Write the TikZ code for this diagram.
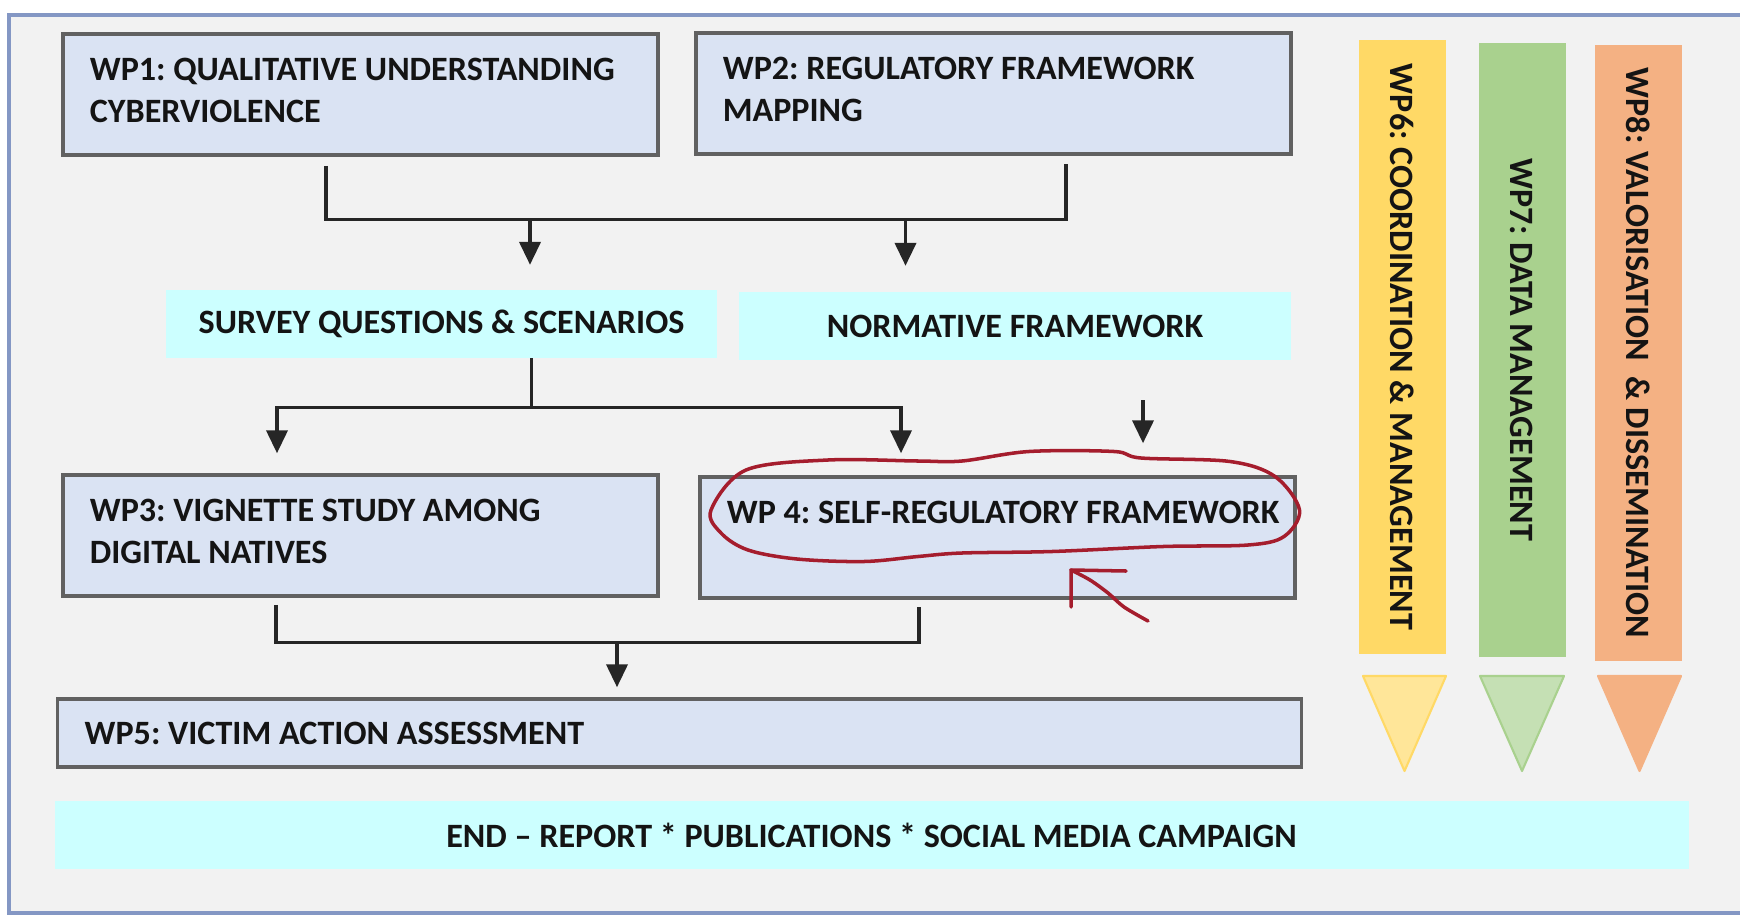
\documentclass[tikz,border=0pt]{standalone}
\usepackage{fontspec}
\setmainfont{Carlito}
\usetikzlibrary{arrows.meta,calc}
\frenchspacing

\definecolor{wpblue}{HTML}{DAE3F3}
\definecolor{wpcyan}{HTML}{CCFFFF}
\definecolor{wpyellow}{HTML}{FFD966}
\definecolor{wpyellowlt}{HTML}{FFE699}
\definecolor{wpgreen}{HTML}{A9D18E}
\definecolor{wpgreenlt}{HTML}{C5E0B4}
\definecolor{wporange}{HTML}{F4B183}
\definecolor{framebg}{HTML}{F2F2F2}
\definecolor{frameline}{HTML}{8497C4}
\definecolor{penred}{HTML}{A51D2D}

\begin{document}
\begin{tikzpicture}[
  x=0.01cm, y=-0.01cm,
  font=\fontsize{9.7}{12}\selectfont\bfseries,
  text=black!92,
  wpbox/.style={draw=black!62, line width=1pt, fill=wpblue, align=flush left,
    inner xsep=0.27cm, text width=5.41cm, minimum height=1.21cm},
  lift/.style={execute at end node={\endgraf\kern2.2pt}},
  outbox/.style={fill=wpcyan, inner sep=0pt, minimum height=0.67cm},
  bar/.style={rotate=-90, inner sep=0pt, minimum height=0.87cm},
  link/.style={line width=0.95pt, draw=black!85},
  arr/.style={link, -{Triangle[width=6pt,length=6.5pt]}},
  pen/.style={draw=penred, line width=1pt, line cap=round, line join=round}
]
  \useasboundingbox (0,0) rectangle (1740,915);
  \fill[white] (0,0) rectangle (1740,915);
  \draw[frameline, line width=0.9pt, fill=framebg] (9,15) rectangle (1760,913);

  % Work packages, first row
  \node[wpbox, lift] (wp1) at (360.5,94.5) {WP1: QUALITATIVE UNDERSTANDING\\CYBERVIOLENCE};
  \node[wpbox, lift] (wp2) at (993.5,93.5) {WP2: REGULATORY FRAMEWORK\\MAPPING};

  % Outputs
  \node[outbox, minimum width=5.51cm] (survey) at (441.5,324) {SURVEY QUESTIONS \& SCENARIOS};
  \node[outbox, minimum width=5.52cm] (normative) at (1015,326) {NORMATIVE FRAMEWORK};

  % Second row
  \node[wpbox, lift] (wp3) at (360.5,535.5) {WP3: VIGNETTE STUDY AMONG\\DIGITAL NATIVES};
  \node[wpbox, lift] (wp4) at (997.5,537.5) {\mbox{WP 4: SELF-REGULATORY FRAMEWORK}\\\mbox{}};
  \node[wpbox, text width=11.89cm, minimum height=0.68cm] (wp5) at (679.5,733)
    {WP5: VICTIM ACTION ASSESSMENT};
  \node[outbox, minimum width=16.33cm, minimum height=0.68cm] (end) at (871.5,835)
    {END -- REPORT * PUBLICATIONS * SOCIAL MEDIA CAMPAIGN};

  % Transversal packages
  \node[bar, fill=wpyellow, minimum width=6.14cm] (wp6) at (1402.5,347) {WP6: COORDINATION \& MANAGEMENT};
  \node[bar, fill=wpgreen, minimum width=6.14cm] (wp7) at (1522,350) {WP7: DATA MANAGEMENT};
  \node[bar, fill=wporange, minimum width=6.16cm] (wp8) at (1638,353) {WP8: VALORISATION \ \& DISSEMINATION};
  \foreach \xl/\xr/\c/\e in {1363/1446/wpyellowlt/wpyellow, 1480/1564/wpgreenlt/wpgreen, 1598/1681/wporange/wporange}
    \filldraw[fill=\c, draw=\e, line width=0.6pt, line join=round] (\xl,676) -- (\xr,676) -- ({(\xl+\xr)/2},771) -- cycle;

  % WP1 + WP2 -> outputs
  \coordinate (j1) at ($(wp1.south)+(-34.5,9)$);
  \coordinate (j2) at ($(wp2.south)+(72.5,8)$);
  \coordinate (b1) at ($(j1)+(0,53.5)$);
  \coordinate (s1) at ($(survey.north)+(88.5,-25)$);
  \coordinate (n1) at ($(normative.north)+(-109.5,-26)$);
  \draw[link] (j1) -- (b1) -| (j2);
  \draw[arr] (b1 -| s1) -- (s1);
  \draw[arr] (b1 -| n1) -- (n1);

  % survey -> WP3 and WP4
  \coordinate (s2) at ($(survey.south)+(90,0)$);
  \coordinate (b2) at ($(s2)+(0,49)$);
  \coordinate (w3) at ($(wp3.north)+(-83.5,-20)$);
  \coordinate (w4) at ($(wp4.north)+(-96.5,-22)$);
  \draw[link] (s2) -- (b2);
  \draw[arr] (b2) -| (w3);
  \draw[arr] (b2) -| (w4);

  % normative -> WP4
  \coordinate (n2) at ($(normative.south)+(128,40)$);
  \coordinate (w4b) at ($(wp4.north)+(145.5,-32)$);
  \draw[arr] (n2) -- (w4b);

  % WP3 + WP4 -> WP5
  \coordinate (c3) at ($(wp3.south)+(-84.5,7)$);
  \coordinate (c4) at ($(wp4.south)+(-78.5,7)$);
  \coordinate (b3) at ($(c3)+(0,38)$);
  \coordinate (w5) at ($(wp5.north)+(-62.5,-10)$);
  \draw[link] (c3) -- (b3) -| (c4);
  \draw[arr] (b3 -| w5) -- (w5);

  % hand-drawn mark around WP4
  \draw[pen] plot[smooth cycle, tension=0.55] coordinates {
    (711,510) (721,533) (748,550) (797,559) (864,561.5) (918,556.5) (962,553)
    (1052,551.5) (1163,546.5) (1248,545) (1284,536.5) (1299.5,510) (1275,476.5)
    (1230,461.5) (1141,458) (1114,451.5) (1029,451.5) (962,461) (918,461)
    (828,460) (746,470)};
  \draw[pen] plot[smooth, tension=0.5] coordinates {(1148,621) (1124,607) (1108,593) (1090,580) (1071,570)};
  \draw[pen] (1126,571) -- (1071,570) -- (1071,607);
\end{tikzpicture}
\end{document}
